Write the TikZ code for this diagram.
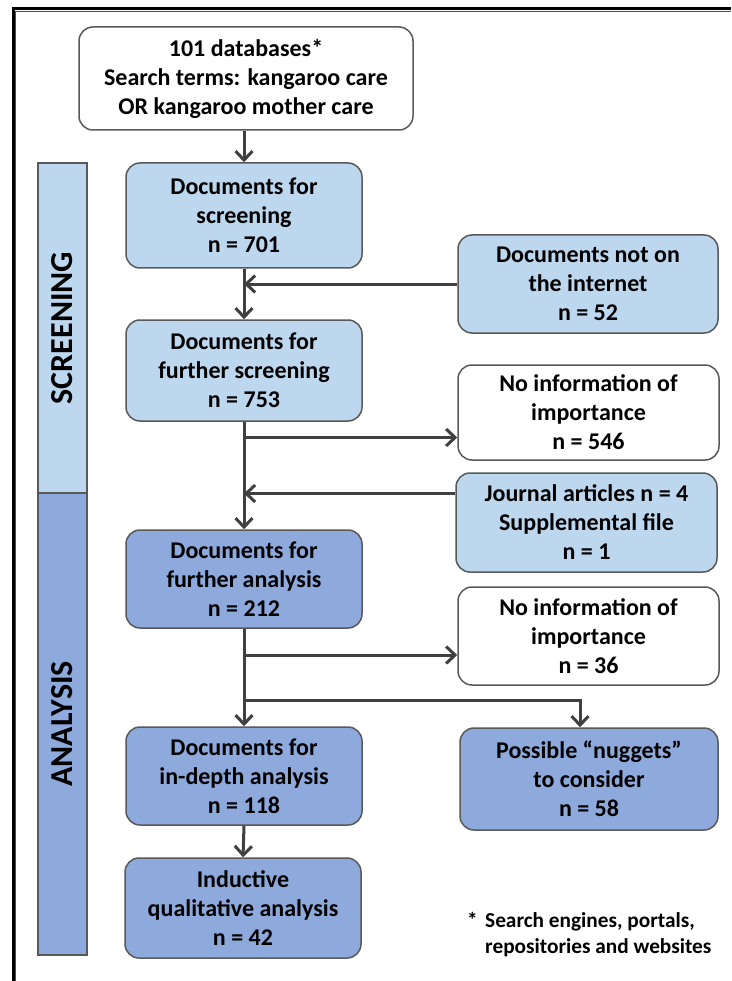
\documentclass[tikz,border=0pt]{standalone}
\usepackage{fontspec}
\setmainfont{Carlito}
\usetikzlibrary{arrows.meta,calc}
\definecolor{lightb}{HTML}{BDD7EE}
\definecolor{darkb}{HTML}{8EA9DB}
\definecolor{bord}{HTML}{595959}
\definecolor{arr}{HTML}{404040}
\begin{document}
\begin{tikzpicture}[x=1pt,y=-1pt,
  box/.style={draw=bord, line width=1.5pt, rounded corners=14pt, align=center,
    font=\bfseries\fontsize{24}{29}\selectfont, inner sep=0pt},
  wbox/.style={box, fill=white},
  lbox/.style={box, fill=lightb},
  dbox/.style={box, fill=darkb},
  conn/.style={draw=arr, line width=3pt},
  arrowc/.style={conn, -{Straight Barb[length=9pt,width=17pt]}},
  barlabel/.style={rotate=90, font=\bfseries\fontsize{32}{34}\selectfont, inner sep=0pt},
  fnote/.style={font=\bfseries\fontsize{21.3}{26.5}\selectfont, inner sep=0pt}
]
\useasboundingbox (0,0) rectangle (731,981);
\fill[white] (0,0) rectangle (731,981);
% frame
\draw[line width=1.2pt, bord!80!blue] (15.5,981) -- (15.5,11.5) -- (731,11.5);
\draw[line width=3pt, black] (13,981) -- (13,9) -- (731,9);
% phase bars
\draw[fill=lightb, draw=bord, line width=1.5pt] (38,163) rectangle (87,493);
\draw[fill=darkb, draw=bord, line width=1.5pt] (38,493) rectangle (87,955);
\node[barlabel] (lscr) at (62,328) {SCREENING};
\node[barlabel] (lana) at (62,724) {ANALYSIS};
% boxes
\node[wbox, minimum width=334pt, minimum height=103pt] (top) at (246,78.5)
  {101 databases*\\Search terms: kangaroo care\\OR kangaroo mother care};
\node[lbox, minimum width=236pt, minimum height=105pt] (s1) at (244,215.5)
  {Documents for\\screening\\n = 701};
\node[lbox, minimum width=260pt, minimum height=98pt] (notnet) at (588,284)
  {Documents not on\\the internet\\n = 52};
\node[lbox, minimum width=236pt, minimum height=101pt] (s2) at (244,370.5)
  {Documents for\\further screening\\n = 753};
\node[wbox, minimum width=261pt, minimum height=95pt] (noinfo1) at (588.5,412.5)
  {No information of\\importance\\n = 546};
\node[lbox, minimum width=261pt, minimum height=99pt] (journal) at (586.5,522.5)
  {Journal articles n = 4\\Supplemental file\\n = 1};
\node[dbox, minimum width=236pt, minimum height=98pt] (a1) at (244,579)
  {Documents for\\further analysis\\n = 212};
\node[wbox, minimum width=261pt, minimum height=98pt] (noinfo2) at (588.5,636)
  {No information of\\importance\\n = 36};
\node[dbox, minimum width=236pt, minimum height=98pt] (a2) at (244,776)
  {Documents for\\in-depth analysis\\n = 118};
\node[dbox, minimum width=258pt, minimum height=102pt] (nuggets) at (589,779)
  {Possible \char"201C nuggets\char"201D\\to consider\\n = 58};
\node[dbox, minimum width=236pt, minimum height=100pt] (a3) at (243,908)
  {Inductive\\qualitative analysis\\n = 42};
% footnote
\node[fnote, anchor=north west, align=left] (fn) at (485,912)
  {Search engines, portals,\\repositories and websites};
\node[fnote, anchor=north east] (ast) at ([xshift=-7pt]fn.north west) {*};
% connectors
\draw[arrowc] (top.south -| s1.north) -- (s1.north);
\draw[arrowc] (notnet.west) -- (notnet.west -| s1.south);
\draw[arrowc] (s1.south) -- (s2.north);
\draw[arrowc] (s2.south) -- (a1.north);
\draw[arrowc] ([yshift=-25pt]noinfo1.west -| s2.south) -- ([yshift=-25pt]noinfo1.west);
\draw[arrowc] ([yshift=29pt]journal.west) -- ([yshift=29pt]journal.west -| s2.south);
\draw[arrowc] (a1.south) -- (a2.north);
\draw[arrowc] ([yshift=-19pt]noinfo2.west -| a1.south) -- ([yshift=-19pt]noinfo2.west);
\draw[arrowc] ([yshift=-72pt]a1.south) -| ([xshift=-9pt]nuggets.north);
\draw[arrowc] (a2.south) -- (a3.north);
\end{tikzpicture}
\end{document}
